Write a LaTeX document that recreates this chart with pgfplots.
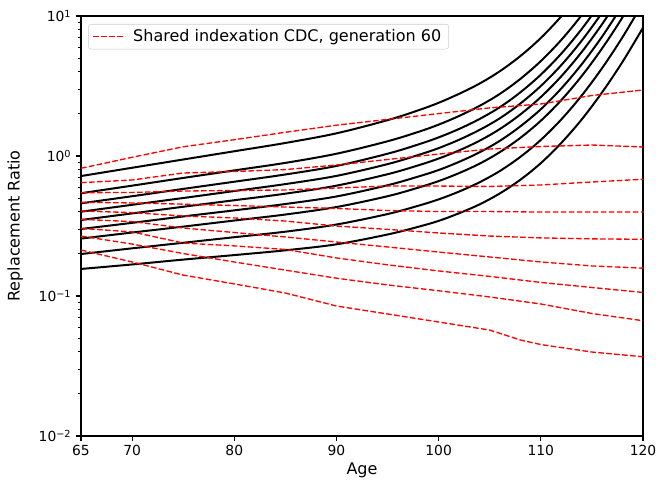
\documentclass[border=0pt]{standalone}
\usepackage{fontspec}
\setmainfont{DejaVu Sans}
\usepackage{pgfplots}
\pgfplotsset{compat=1.18}
\usetikzlibrary{calc}

\begin{document}
\fontsize{10.4}{12.5}\selectfont
\begin{tikzpicture}[font=\fontsize{10.4}{12.5}\selectfont]
\begin{axis}[
    name=ax,
    scale only axis,
    width=421.5pt, height=315pt,
    xmin=65, xmax=120,
    ymode=log, ymin=0.01, ymax=10,
    xtick={65,70,80,90,100,110,120},
    ytick={0.01,0.1,1,10},
    yticklabels={10\textsuperscript{−2},10\textsuperscript{−1},10\textsuperscript{0},10\textsuperscript{1}},
    minor ytick={0.02,0.03,0.04,0.05,0.06,0.07,0.08,0.09,0.2,0.3,0.4,0.5,0.6,0.7,0.8,0.9,2,3,4,5,6,7,8,9},
    tick align=outside, tick pos=left,
    major tick length=3.6pt, minor tick length=2.1pt,
    every tick/.style={black, line width=0.8pt},
    axis line style={line width=0.8pt},
    /pgf/number format/assume math mode=true,
    xlabel={Age}, ylabel={Replacement Ratio},
    every axis x label/.style={at={(axis description cs:0.5,-0.081)}, anchor=center,
        font=\fontsize{12}{14}\selectfont},
    every axis y label/.style={at={(axis description cs:-0.117,0.5)}, rotate=90, anchor=center,
        font=\fontsize{12}{14}\selectfont},
    legend style={at={(axis description cs:0.013,0.981)}, anchor=north west,
        font=\fontsize{12}{14}\selectfont,
        draw=black!20, rounded corners=2pt, fill=white, fill opacity=0.8, text opacity=1,
        inner xsep=3pt, inner ysep=1.5pt, nodes={inner sep=2.5pt}},
    legend cell align=left,
    legend image code/.code={\draw[#1] (0pt,0pt) -- (24pt,0pt); \path (27pt,0pt);},
    clip=true,
]
% black: replacement ratio by cohort
\pgfplotsset{blk/.style={black, line width=1.5pt, smooth, tension=0.55, forget plot}}
\addplot[blk] coordinates {(65,0.719)(70,0.824)(75,0.944)(80,1.081)(85,1.239)(90,1.452)(95,1.803)(98,2.118)(100,2.399)(102,2.780)(104,3.289)(106,4.036)(108,5.175)(110,6.965)(112,9.935)(114,14.95)};
\addplot[blk] coordinates {(65,0.542)(70,0.614)(75,0.697)(80,0.789)(85,0.893)(90,1.038)(95,1.274)(98,1.486)(100,1.675)(102,1.932)(104,2.280)(106,2.780)(108,3.555)(110,4.764)(112,6.745)(114,10.14)(116,16.11)};
\addplot[blk] coordinates {(65,0.459)(70,0.516)(75,0.582)(80,0.655)(85,0.738)(90,0.849)(95,1.038)(98,1.208)(100,1.358)(102,1.560)(104,1.837)(106,2.234)(108,2.850)(110,3.811)(112,5.383)(114,8.07)(116,12.79)};
\addplot[blk] coordinates {(65,0.400)(70,0.448)(75,0.501)(80,0.562)(85,0.630)(90,0.721)(95,0.875)(98,1.016)(100,1.138)(102,1.306)(104,1.535)(106,1.862)(108,2.371)(110,3.162)(112,4.457)(114,6.666)(116,10.57)(118,17.7)};
\addplot[blk] coordinates {(65,0.349)(70,0.389)(75,0.434)(80,0.483)(85,0.538)(90,0.614)(95,0.741)(98,0.857)(100,0.959)(102,1.096)(104,1.285)(106,1.560)(108,1.981)(110,2.636)(112,3.707)(114,5.532)(116,8.75)(118,14.63)};
\addplot[blk] coordinates {(65,0.301)(70,0.333)(75,0.370)(80,0.409)(85,0.454)(90,0.514)(95,0.618)(98,0.713)(100,0.794)(102,0.908)(104,1.062)(106,1.285)(108,1.629)(110,2.158)(112,3.034)(114,4.518)(116,7.13)(118,11.91)};
\addplot[blk] coordinates {(65,0.257)(70,0.284)(75,0.313)(80,0.346)(85,0.382)(90,0.432)(95,0.516)(98,0.594)(100,0.662)(102,0.755)(104,0.881)(106,1.067)(108,1.348)(110,1.786)(112,2.506)(114,3.723)(116,5.875)(118,9.80)(120,17.3)};
\addplot[blk] coordinates {(65,0.1995)(70,0.219)(75,0.240)(80,0.263)(85,0.288)(90,0.324)(95,0.385)(98,0.441)(100,0.490)(102,0.557)(104,0.649)(106,0.782)(108,0.986)(110,1.303)(112,1.824)(114,2.703)(116,4.246)(118,7.064)(120,12.44)};
\addplot[blk] coordinates {(65,0.156)(70,0.168)(75,0.182)(80,0.196)(85,0.212)(90,0.234)(95,0.275)(98,0.312)(100,0.344)(102,0.390)(104,0.451)(106,0.541)(108,0.677)(110,0.889)(112,1.239)(114,1.823)(116,2.851)(118,4.710)(120,8.24)};
% red dashed: shared indexation CDC, generation 60
\pgfplotsset{rd/.style={red, line width=1pt, dash pattern=on 4.2pt off 1.8pt}}
\addplot[rd] coordinates {(65,0.817)(70,0.979)(75,1.164)(80,1.307)(85,1.477)(90,1.660)(95,1.826)(100,2.009)(105,2.206)(110,2.352)(115,2.705)(120,2.961)};
\addlegendentry{Shared indexation CDC, generation 60}
\addplot[rd, forget plot] coordinates {(65,0.645)(70,0.674)(75,0.756)(80,0.775)(85,0.800)(90,0.862)(95,0.944)(100,1.033)(105,1.122)(110,1.169)(115,1.198)(120,1.160)};
\addplot[rd, forget plot] coordinates {(65,0.547)(70,0.549)(75,0.562)(80,0.567)(85,0.572)(90,0.591)(95,0.610)(100,0.610)(105,0.606)(110,0.621)(115,0.652)(120,0.682)};
\addplot[rd, forget plot] coordinates {(65,0.467)(70,0.462)(75,0.453)(80,0.443)(85,0.432)(90,0.422)(95,0.408)(100,0.401)(105,0.401)(110,0.398)(115,0.398)(120,0.398)};
\addplot[rd, forget plot] coordinates {(65,0.405)(70,0.394)(75,0.373)(80,0.361)(85,0.343)(90,0.316)(95,0.299)(100,0.282)(105,0.268)(110,0.260)(115,0.256)(120,0.254)};
\addplot[rd, forget plot] coordinates {(65,0.353)(70,0.340)(75,0.306)(80,0.284)(85,0.264)(90,0.243)(95,0.224)(100,0.206)(105,0.190)(110,0.175)(115,0.164)(120,0.158)};
\addplot[rd, forget plot] coordinates {(65,0.304)(70,0.287)(75,0.239)(80,0.228)(85,0.215)(90,0.187)(95,0.167)(100,0.151)(105,0.138)(110,0.125)(115,0.115)(120,0.106)};
\addplot[rd, forget plot] coordinates {(65,0.268)(70,0.235)(75,0.201)(80,0.175)(85,0.153)(90,0.134)(95,0.120)(100,0.109)(105,0.0984)(110,0.0877)(115,0.0750)(120,0.0666)};
\addplot[rd, forget plot] coordinates {(65,0.213)(70,0.175)(75,0.141)(80,0.122)(85,0.105)(90,0.0848)(95,0.0744)(100,0.0652)(105,0.0571)(108,0.0485)(110,0.0450)(115,0.0398)(120,0.0368)};
\end{axis}
\pgfresetboundingbox
\path[use as bounding box] ($(ax.south west)+(-60.75pt,-36pt)$) rectangle ($(ax.north east)+(12.75pt,12pt)$);
\end{tikzpicture}
\end{document}
